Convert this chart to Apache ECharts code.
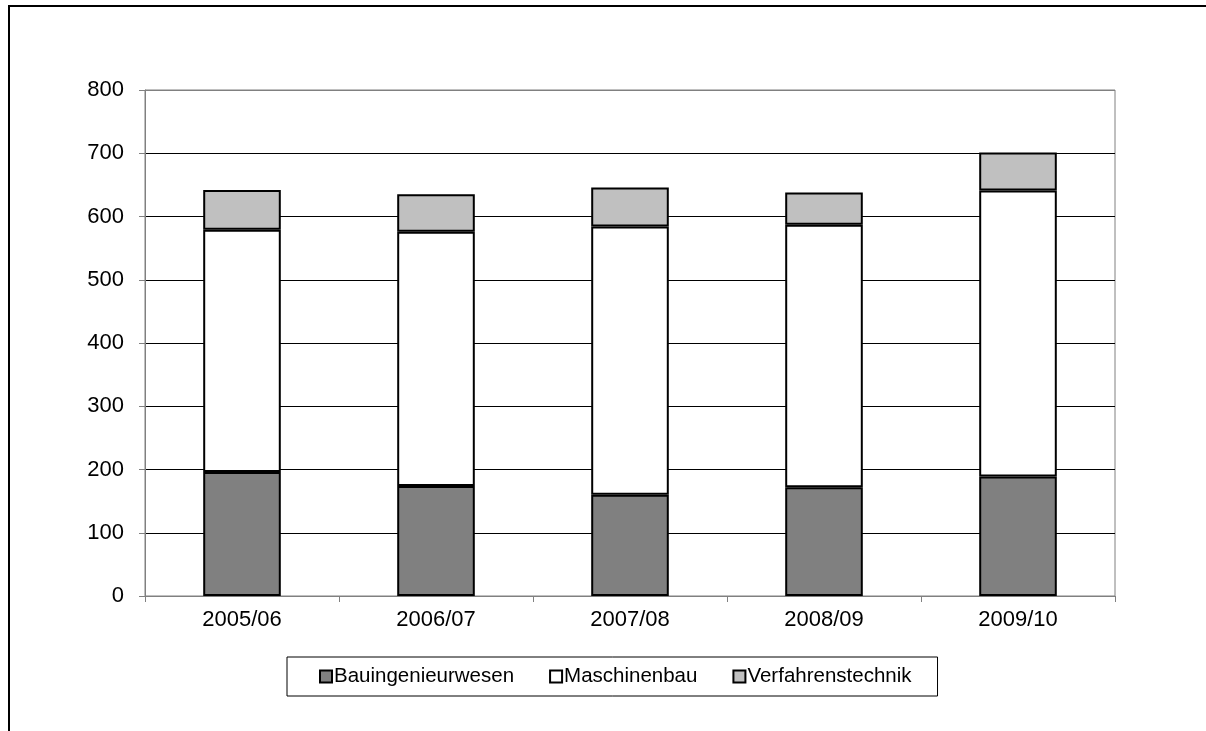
<!DOCTYPE html>
<html>
<head>
<meta charset="utf-8">
<script src="https://cdn.jsdelivr.net/npm/echarts@6/dist/echarts.min.js"></script>
<style>
  html, body { margin: 0; padding: 0; background: #fff; }
  #chart { width: 1206px; height: 731px; }
</style>
</head>
<body>
<div id="chart"></div>
<script>
// Studienjahre
const categories = ['2005/06', '2006/07', '2007/08', '2008/09', '2009/10'];
// Studierende je Studiengang (gestapelt)
const bauingenieurwesen = [196, 174, 160, 172, 189];
const maschinenbau = [383, 402, 424, 415, 452];
const verfahrenstechnik = [63, 59, 62, 51, 60];
const yTicks = [0, 100, 200, 300, 400, 500, 600, 700, 800];

const FONT = 'Liberation Sans, Arial, sans-serif';

function barSeries(name, data, color) {
  return {
    name: name,
    type: 'bar',
    stack: 'gesamt',
    data: data,
    barWidth: '40%',
    itemStyle: { color: color, borderColor: '#000', borderWidth: 2 },
    emphasis: { disabled: true }
  };
}

const chart = echarts.init(document.getElementById('chart'), null, { renderer: 'canvas' });
chart.setOption({
  animation: false,
  backgroundColor: '#fff',
  grid: {
    left: 145, right: 91, top: 90, bottom: 135,
    show: true, borderColor: '#808080', borderWidth: 1, backgroundColor: 'transparent'
  },
  xAxis: {
    type: 'category',
    data: categories,
    boundaryGap: true,
    axisLine: { show: true, lineStyle: { color: '#808080', width: 1 } },
    axisTick: { show: true, length: 6, inside: false, alignWithLabel: false, lineStyle: { color: '#808080' } },
    axisLabel: { color: '#000', fontFamily: FONT, fontSize: 22, margin: 13 },
    splitLine: { show: false }
  },
  yAxis: {
    type: 'value',
    min: yTicks[0],
    max: yTicks[yTicks.length - 1],
    interval: 100,
    axisLine: { show: true, lineStyle: { color: '#808080', width: 1 } },
    axisTick: { show: true, length: 6, lineStyle: { color: '#808080' } },
    axisLabel: { color: '#000', fontFamily: FONT, fontSize: 22, margin: 21 },
    splitLine: {
      show: true,
      lineStyle: { color: ['#000', '#000', '#000', '#000', '#000', '#000', '#000', '#000', '#808080'], width: 1 }
    }
  },
  legend: {
    left: 287,
    top: 657,
    orient: 'horizontal',
    padding: [9, 26, 9, 32],
    borderColor: '#000',
    borderWidth: 1,
    itemWidth: 12,
    itemHeight: 12,
    itemGap: 35,
    icon: 'rect',
    itemStyle: { borderColor: '#000', borderWidth: 2 },
    textStyle: { color: '#000', fontFamily: FONT, fontSize: 20.5, padding: [0, 0, 0, -3] },
    data: ['Bauingenieurwesen', 'Maschinenbau', 'Verfahrenstechnik']
  },
  graphic: [{
    type: 'rect',
    shape: { x: 9, y: 6, width: 1400, height: 1000 },
    style: { fill: 'none', stroke: '#000', lineWidth: 2 },
    silent: true,
    z: 100
  }],
  series: [
    barSeries('Bauingenieurwesen', bauingenieurwesen, '#808080'),
    barSeries('Maschinenbau', maschinenbau, '#ffffff'),
    barSeries('Verfahrenstechnik', verfahrenstechnik, '#c0c0c0')
  ]
});
</script>
</body>
</html>
